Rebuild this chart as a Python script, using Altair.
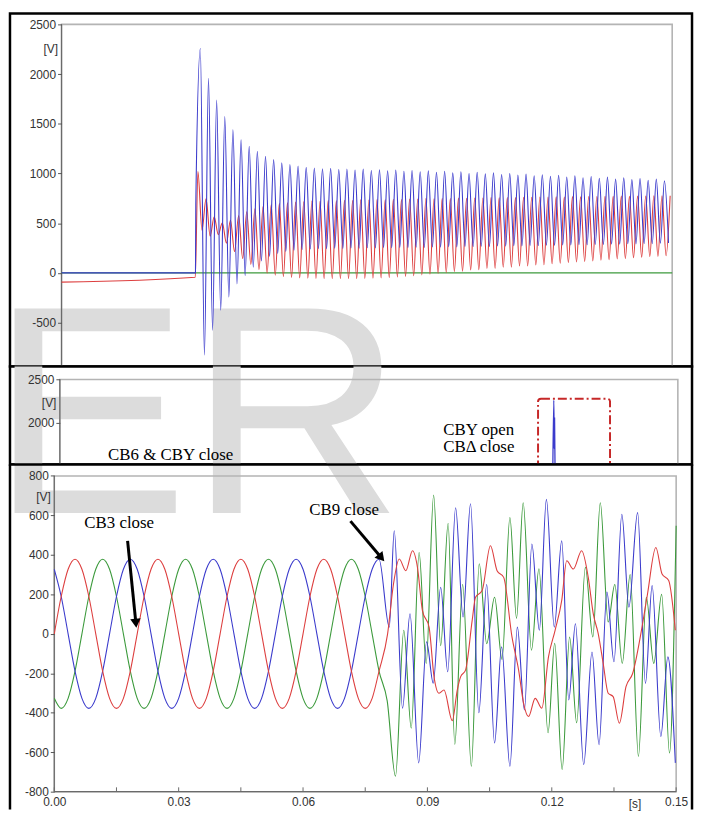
import altair as alt
import pandas as pd

# ------------------------------------------------------------------ data
# Panel 1: voltages after "CB6 & CBY close" (time axis not shown)
TOP_T_END = 1.5
TOP_SWITCH_T = 0.329
TOP_CYCLE = 0.02
TOP_BLUE_PEAK_LAG = 0.012
TOP_RED_PEAK_LAG = 0.006
top_axis_values = [-1000, -500, 0, 500, 1000, 1500, 2000, 2500]
top_red_before = [-93, -43]
top_blue_jump = 690
top_blue_peaks = [2257, 1957, 1740, 1574, 1440, 1340, 1274, 1224, 1174, 1140, 1107, 1090, 1074, 1062,
                  1055, 1048, 1052, 1040, 1046, 1035, 1044, 1030, 1038, 1028, 1036, 1022,
                  1030, 1018, 1026, 1012, 1022, 1006, 1018, 1000, 1012, 996, 1006, 990, 1000, 985, 994,
                  978, 988, 972, 982, 965, 976, 958, 970, 952, 964, 945, 958, 938, 950, 932, 944, 926, 935]
top_blue_troughs = [-826, -576, -376, -243, -110, -26, 57, 120, 165, 195, 215, 228, 236,
                    240, 244, 243, 248, 246, 250, 249, 253, 251, 255, 253, 257, 255, 259, 257, 261, 259,
                    263, 262, 266, 264, 268, 267, 271, 269, 273, 272, 276, 275, 279, 277, 281, 280, 284,
                    283, 287, 286, 290, 289, 293, 292, 296, 295, 298, 300]
top_red_peaks = [1020, 745, 565, 505, 530, 575, 615, 645, 668, 685, 697, 705, 712,
                 716, 722, 720, 727, 725, 731, 729, 735, 733, 738, 736, 741, 739, 744, 742, 747, 745,
                 749, 748, 752, 750, 754, 753, 757, 755, 759, 757, 761, 760, 763, 762, 765, 764, 767,
                 766, 769, 768, 770, 770, 772, 771, 774, 773, 775, 776, 777]
top_red_troughs = [430, 370, 385, 300, 215, 145, 85, 35, 0, -22, -36, -45, -50,
                   -53, -55, -56, -57, -57, -57, -56, -55, -53, -50, -46, -41, -35, -28, -20, -12, -4,
                   4, 14, 18, 30, 33, 44, 46, 57, 58, 69, 70, 80, 83, 92, 97, 104, 110, 116, 121, 129,
                   133, 141, 145, 152, 157, 163, 166, 172]
top_green = [0, 0]

# Panel 2: strip of the "CB6 & CBY close" / "CBY open, CBΔ close" plot
mid_axis_values = [1500, 2000, 2500]
mid_blue_t = [1.1965, 1.1990, 1.2000, 1.2008, 1.2020]
mid_blue_v = [1450, 2262, 1700, 2055, 1450]
mid_box = {"t": 1.1607, "t2": 1.3354, "v": 1300, "v2": 2280}
mid_labels = ["CB6 & CBY close", "CBY open", "CBΔ close"]
mid_label_t = [0.117, 0.9305, 0.9305]
mid_label_v = [1577, 1859, 1668]

# Panel 3: three-phase voltages, CB3 and CB9 closing
BOT_SAMPLE = 0.02 / 12
bot_axis_values = [-800, -600, -400, -200, 0, 200, 400, 600, 800]
bot_x_ticks = [0.0, 0.015, 0.03, 0.045, 0.06, 0.075, 0.09, 0.105, 0.12, 0.135, 0.15]
bot_red_smooth = [0, 189, 327, 378, 327, 189, 0, -189, -327, -378, -327, -189] * 4
bot_blue_smooth = [327, 189, 0, -189, -327, -378, -327, -189, 0, 189, 327, 378] * 4
bot_green_smooth = [-327, -378, -327, -189, 0, 189, 327, 378, 327, 189, 0, -189] * 4
bot_red_t = [0.0804, 0.0818, 0.0832, 0.0848, 0.0864, 0.0876, 0.0888, 0.0904, 0.0916, 0.0928, 0.0940,
             0.0960, 0.0972, 0.0980, 0.0992, 0.1008, 0.1016, 0.1032, 0.1052, 0.1068, 0.1084, 0.1104,
             0.1120, 0.1132, 0.1144, 0.1160, 0.1176, 0.1192, 0.1208, 0.1224, 0.1236, 0.1252, 0.1272,
             0.1288, 0.1300, 0.1312, 0.1324, 0.1336, 0.1348, 0.1363, 0.1379, 0.1395, 0.1419, 0.1431,
             0.1451, 0.1466, 0.1482, 0.1498]
bot_red_v = [0, 250, 379, 320, 421, 337, 118, 34, -218, -301, -285,
             -440, -285, -218, -184, 68, 185, 219, 446, 320, 286, -16,
             -184, -352, -419, -327, -377, -117, 18, 169, 370, 328, 421,
             286, 102, 1, -150, -301, -318, -453, -268, -201, 51, 203,
             437, 303, 270, 18]
bot_blue_t = [0.0808, 0.0820, 0.0840, 0.0858, 0.0879, 0.0898, 0.0914, 0.0932, 0.0949, 0.0968, 0.0986,
              0.1004, 0.1024, 0.1043, 0.1062, 0.1079, 0.1099, 0.1117, 0.1134, 0.1152, 0.1170, 0.1187,
              0.1206, 0.1224, 0.1241, 0.1257, 0.1277, 0.1297, 0.1314, 0.1333, 0.1350, 0.1369, 0.1386,
              0.1407, 0.1426, 0.1442, 0.1463, 0.1480, 0.1498]
bot_blue_v = [34, 522, -377, 102, -654, -40, -250, 236, -192, 639, 85,
              659, -400, 250, -553, -66, -671, 34, -386, 455, 18, 681,
              34, 471, -335, 51, -663, -92, -562, 211, -142, 606, 135,
              614, -251, 244, -520, -117, -654]
bot_green_t = [0.0803, 0.0823, 0.0843, 0.0861, 0.0880, 0.0897, 0.0915, 0.0932, 0.0950, 0.0966, 0.0985,
               0.1006, 0.1025, 0.1043, 0.1062, 0.1080, 0.1099, 0.1115, 0.1131, 0.1151, 0.1169, 0.1191,
               0.1207, 0.1225, 0.1243, 0.1260, 0.1281, 0.1299, 0.1317, 0.1336, 0.1352, 0.1370, 0.1389,
               0.1409, 0.1428, 0.1446, 0.1465, 0.1484, 0.1500]
bot_green_v = [-340, -722, 18, -478, 412, -150, 703, -60, 560, -560, 250,
               -671, 355, -50, 185, -130, 589, 78, 664, -83, 330, -501,
               -48, -688, -16, -451, 337, -16, 664, 60, 250, -150, 300,
               -621, 185, -150, 200, -604, 547]
bot_labels = ["CB3 close", "CB9 close"]
bot_label_t = [0.00724, 0.0615]
bot_label_v = [536, 602]
bot_arrow_t = [0.01768, 0.07144]
bot_arrow_v = [471, 571]
bot_arrow_t2 = [0.01968, 0.0789]
bot_arrow_v2 = [54, 385]

# ------------------------------------------------------------------ layout
W = 688
TOP_H, MID_H, BOT_H = 356, 99, 343
BLUE, RED, GREEN = "#3b3bcc", "#dd3f3f", "#3c9a3c"
FRAME, AXLINE = "#b4b4b4", "#6a6a6a"


def lin_domain(va, pa, vb, pb, size):
    k = (vb - va) / (pb - pa)
    lo, hi = va - pa * k, va + (size - pa) * k
    return [min(lo, hi), max(lo, hi)]


one = pd.DataFrame({"k": [0]})


def watermark(y_px):
    return alt.Chart(one).mark_text(
        text="ER", font="Liberation Sans", fontSize=300, color="#dcdcdc",
        align="left", baseline="alphabetic", clip=True
    ).encode(x=alt.value(-20), y=alt.value(y_px))


def yaxis(values, offset, title_y):
    return alt.Axis(values=values, offset=offset, title="[V]", titleAngle=0, titleX=-4,
                    titleY=title_y, titleAlign="right", titleBaseline="middle", zindex=2,
                    labelExpr="'' + datum.value", labelPadding=2)


def lines(df, X, Y, order):
    out = []
    for name, col in order:
        out.append(alt.Chart(df).transform_filter(alt.datum.s == name).mark_line(
            interpolate="monotone", strokeWidth=1.1, color=col, clip=True
        ).encode(x=X, y=Y))
    return out


# ---------------- top panel
rows = []
rows += [{"s": "green", "t": 0.0, "v": top_green[0]}, {"s": "green", "t": TOP_T_END, "v": top_green[1]}]
rows += [{"s": "red", "t": 0.0, "v": top_red_before[0]},
         {"s": "red", "t": TOP_SWITCH_T - 0.0005, "v": top_red_before[1]}]
rows += [{"s": "blue", "t": 0.0, "v": 0}, {"s": "blue", "t": TOP_SWITCH_T, "v": 0},
         {"s": "blue", "t": TOP_SWITCH_T + 0.0008, "v": top_blue_jump}]
for k, v in enumerate(top_blue_peaks):
    rows.append({"s": "blue", "t": TOP_SWITCH_T + TOP_BLUE_PEAK_LAG + TOP_CYCLE * k, "v": v})
for k, v in enumerate(top_blue_troughs):
    rows.append({"s": "blue", "t": TOP_SWITCH_T + TOP_BLUE_PEAK_LAG + TOP_CYCLE / 2 + TOP_CYCLE * k, "v": v})
for k, v in enumerate(top_red_peaks):
    rows.append({"s": "red", "t": TOP_SWITCH_T + TOP_RED_PEAK_LAG + TOP_CYCLE * k, "v": v})
for k, v in enumerate(top_red_troughs):
    rows.append({"s": "red", "t": TOP_SWITCH_T + TOP_RED_PEAK_LAG + TOP_CYCLE / 2 + TOP_CYCLE * k, "v": v})
top_df = pd.DataFrame(rows)
top_df = top_df[top_df["t"] <= TOP_T_END].sort_values(["s", "t"])

tXs = alt.Scale(domain=lin_domain(0, 52, TOP_T_END, 668, W), nice=False, zero=False)
tYs = alt.Scale(domain=lin_domain(2500, 11, 0, 261.7, TOP_H), nice=False, zero=False)
tX = alt.X("t:Q", scale=tXs, axis=None)
tY = alt.Y("v:Q", scale=tYs, axis=yaxis(top_axis_values, -52, 35))
top_frame = pd.DataFrame({"t": [0.0], "t2": [TOP_T_END], "v": [-3000], "v2": [2500]})
top_layers = [
    watermark(504),
    alt.Chart(top_frame).mark_rect(fillOpacity=0, stroke=FRAME, strokeWidth=1.6, clip=True).encode(
        x=tX, x2="t2:Q", y=tY, y2="v2:Q"),
    alt.Chart(top_frame).mark_rule(color=AXLINE, strokeWidth=1.2, clip=True).encode(x=tX, y=tY, y2="v2:Q"),
] + lines(top_df, tX, tY, [("green", GREEN), ("red", RED), ("blue", BLUE)])
top = alt.layer(*top_layers).properties(
    width=W, height=TOP_H, view=alt.ViewBackground(fill="white", stroke="black", strokeWidth=2.5))

# ---------------- middle panel
mXs = alt.Scale(domain=lin_domain(0, 50.3, TOP_T_END, 673.7, W), nice=False, zero=False)
mYs = alt.Scale(domain=lin_domain(2500, 13.3, 2000, 57, MID_H), nice=False, zero=False)
mX = alt.X("t:Q", scale=mXs, axis=None)
mY = alt.Y("v:Q", scale=mYs, axis=yaxis(mid_axis_values, -50.3, 36))
mid_frame = pd.DataFrame({"t": [0.0], "t2": [TOP_T_END], "v": [1000], "v2": [2500]})
mid_blue = pd.DataFrame({"t": mid_blue_t, "v": mid_blue_v})
mid_box_df = pd.DataFrame([mid_box])
mid_text = pd.DataFrame({"t": mid_label_t, "v": mid_label_v, "label": mid_labels})
mid_layers = [
    watermark(148),
    alt.Chart(mid_frame).mark_rect(fillOpacity=0, stroke=FRAME, strokeWidth=1.6, clip=True).encode(
        x=mX, x2="t2:Q", y=mY, y2="v2:Q"),
    alt.Chart(mid_frame).mark_rule(color=AXLINE, strokeWidth=1.2, clip=True).encode(x=mX, y=mY, y2="v2:Q"),
    alt.Chart(mid_blue).mark_line(interpolate="monotone", strokeWidth=1.3, color=BLUE, clip=True).encode(x=mX, y=mY),
    alt.Chart(mid_box_df).mark_rect(fillOpacity=0, stroke="#c62828", strokeWidth=2, strokeDash=[9, 3, 2, 3],
                                    cornerRadius=3, clip=True).encode(x=mX, x2="t2:Q", y=mY, y2="v2:Q"),
    alt.Chart(mid_text).mark_text(font="Liberation Serif", fontSize=17, color="black", align="left",
                                  baseline="alphabetic").encode(x=mX, y=mY, text="label:N"),
]
mid = alt.layer(*mid_layers).properties(
    width=W, height=MID_H, view=alt.ViewBackground(fill="white", stroke="black", strokeWidth=2.5))

# ---------------- bottom panel
brows = []
for name, smooth, tt, vv in [("red", bot_red_smooth, bot_red_t, bot_red_v),
                             ("blue", bot_blue_smooth, bot_blue_t, bot_blue_v),
                             ("green", bot_green_smooth, bot_green_t, bot_green_v)]:
    for i, v in enumerate(smooth):
        brows.append({"s": name, "t": i * BOT_SAMPLE, "v": v})
    for t, v in zip(tt, vv):
        brows.append({"s": name, "t": t, "v": v})
bot_df = pd.DataFrame(brows).sort_values(["s", "t"])

bXs = alt.Scale(domain=lin_domain(0, 44.7, 0.15, 672, W), nice=False, zero=False)
bYs = alt.Scale(domain=lin_domain(800, 11.5, -800, 330, BOT_H), nice=False, zero=False)
bXaxis = alt.Axis(values=bot_x_ticks, ticks=False, offset=-13, labelPadding=5, zindex=2,
                  labelExpr="abs(datum.value*100 - round(datum.value*100/3)*3) < 0.01 ? format(datum.value, '.2f') : ''",
                  title="[s]", titleX=630, titleY=12, titleAlign="center", titleBaseline="middle")
bX = alt.X("t:Q", scale=bXs, axis=bXaxis)
bY = alt.Y("v:Q", scale=bYs, axis=yaxis(bot_axis_values, -44.7, 32))
bot_frame = pd.DataFrame({"t": [0.0], "t2": [0.15], "v": [-800], "v2": [800]})
bot_ticks = pd.DataFrame({"t": bot_x_ticks, "v": [-800] * len(bot_x_ticks), "v2": [-778] * len(bot_x_ticks)})
bot_text = pd.DataFrame({"t": bot_label_t, "v": bot_label_v, "label": bot_labels})
bot_arrows = pd.DataFrame({"t": bot_arrow_t, "v": bot_arrow_v, "t2": bot_arrow_t2, "v2": bot_arrow_v2})
bot_tips = pd.DataFrame({"t": bot_arrow_t2, "v": bot_arrow_v2})
bot_layers = [
    watermark(49),
    alt.Chart(bot_frame).mark_rect(fillOpacity=0, stroke=FRAME, strokeWidth=1.6, clip=True).encode(
        x=bX, x2="t2:Q", y=bY, y2="v2:Q"),
    alt.Chart(bot_frame).mark_rule(color=AXLINE, strokeWidth=1.2).encode(x=bX, y=bY, y2="v2:Q"),
    alt.Chart(bot_frame).mark_rule(color=AXLINE, strokeWidth=1.2).encode(x=bX, x2="t2:Q", y=bY),
    alt.Chart(bot_ticks).mark_rule(color=AXLINE, strokeWidth=1).encode(x=bX, y=bY, y2="v2:Q"),
] + lines(bot_df, bX, bY, [("green", GREEN), ("blue", BLUE), ("red", RED)]) + [
    alt.Chart(bot_text).mark_text(font="Liberation Serif", fontSize=17, color="black", align="left",
                                  baseline="alphabetic").encode(x=bX, y=bY, text="label:N"),
    alt.Chart(bot_arrows).mark_rule(color="black", strokeWidth=3).encode(x=bX, y=bY, x2="t2:Q", y2="v2:Q"),
    alt.Chart(bot_tips.iloc[[0]]).mark_point(shape="triangle-up", filled=True, color="black", size=110,
                                             opacity=1, angle=174).encode(x=bX, y=bY),
    alt.Chart(bot_tips.iloc[[1]]).mark_point(shape="triangle-up", filled=True, color="black", size=110,
                                             opacity=1, angle=140).encode(x=bX, y=bY),
    alt.Chart(one).mark_rule(color="black", strokeWidth=2.5).encode(x=alt.value(0), y=alt.value(0), y2=alt.value(BOT_H + 5)),
    alt.Chart(one).mark_rule(color="black", strokeWidth=2.5).encode(x=alt.value(W), y=alt.value(0), y2=alt.value(BOT_H + 5)),
    alt.Chart(one).mark_rule(color="black", strokeWidth=2.5).encode(x=alt.value(0), x2=alt.value(W), y=alt.value(0)),
]
bot = alt.layer(*bot_layers).properties(
    width=W, height=BOT_H, view=alt.ViewBackground(fill="white", stroke="transparent"))

chart = alt.vconcat(top, mid, bot, spacing=0, bounds="flush").properties(padding=0).configure_axis(
    labelFont="Liberation Sans", labelFontSize=12, labelColor="#333333", tickColor="#555555", tickSize=4,
    domain=False, grid=False, labelFlush=False, labelOverlap=False,
    titleFont="Liberation Sans", titleFontSize=12, titleFontWeight="normal", titleColor="#333333")

chart.save("out.html", embed_options={"renderer": "svg", "actions": False})
